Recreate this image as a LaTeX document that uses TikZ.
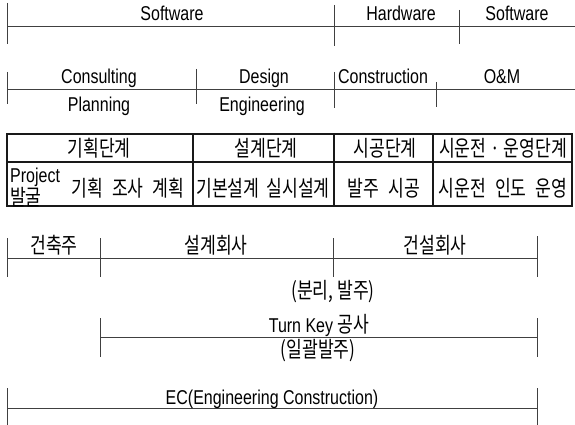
\documentclass[tikz,border=0pt]{standalone}
\usepackage{fontspec}
\setmainfont{Liberation Sans}[FakeStretch=0.8]
\newfontfamily\kr{Noto Sans CJK KR}[FakeStretch=0.78]
\begin{document}
\begin{tikzpicture}[x=1pt,y=-1pt,
  ln/.style={draw=black!75, line width=0.8pt},
  tb/.style={draw=black!90, line width=1.1pt},
  lat/.style={font=\fontsize{20}{22}\selectfont, inner sep=0pt, anchor=base},
  han/.style={font=\kr\fontsize{22}{24}\selectfont, inner sep=0pt, anchor=center}]
\useasboundingbox (0,0) rectangle (575,425);

% ---------- Row 1 ----------
\coordinate (r1L) at (7,26);  \coordinate (r1R) at (575,26);
\coordinate (r1aT) at (7,3);   \coordinate (r1aB) at (7,44);
\coordinate (r1bT) at (334,5); \coordinate (r1bB) at (334,46);
\coordinate (r1cT) at (459,10);\coordinate (r1cB) at (459,44);
\draw[ln] (r1L) -- (r1R);
\draw[ln] (r1aT) -- (r1aB);
\draw[ln] (r1bT) -- (r1bB);
\draw[ln] (r1cT) -- (r1cB);
\node[lat] (sw1) at (172,21) {Software};
\node[lat] (hw)  at (401,21) {Hardware};
\node[lat] (sw2) at (517,21) {Software};

% ---------- Row 2 ----------
\coordinate (r2L) at (7,89);  \coordinate (r2R) at (575,89);
\coordinate (r2aT) at (7,72);   \coordinate (r2aB) at (7,104);
\coordinate (r2bT) at (196,69); \coordinate (r2bB) at (196,104);
\coordinate (r2cT) at (334,72); \coordinate (r2cB) at (334,108);
\coordinate (r2dT) at (436,82); \coordinate (r2dB) at (436,107);
\draw[ln] (r2L) -- (r2R);
\draw[ln] (r2aT) -- (r2aB);
\draw[ln] (r2bT) -- (r2bB);
\draw[ln] (r2cT) -- (r2cB);
\draw[ln] (r2dT) -- (r2dB);
\node[lat] (cons) at (99,84)  {Consulting};
\node[lat] (des)  at (264,84) {Design};
\node[lat] (cnst) at (383,84) {Construction};
\node[lat] (om)   at (502,84) {O\&M};
\node[lat] (plan) at (99,112) {Planning};
\node[lat] (eng)  at (262,112) {Engineering};

% ---------- Table ----------
\coordinate (tTL) at (7,134);  \coordinate (tBR) at (572,206);
\coordinate (tML) at (7,162);  \coordinate (tMR) at (572,162);
\coordinate (c1T) at (193,134); \coordinate (c1B) at (193,206);
\coordinate (c2T) at (334,134); \coordinate (c2B) at (334,206);
\coordinate (c3T) at (433,134); \coordinate (c3B) at (433,206);
\draw[tb] (tTL) rectangle (tBR);
\draw[tb] (tML) -- (tMR);
\draw[tb] (c1T) -- (c1B);
\draw[tb] (c2T) -- (c2B);
\draw[tb] (c3T) -- (c3B);
\node[han] (h1) at (99,148)  {기획단계};
\node[han] (h2) at (266,148) {설계단계};
\node[han] (h3) at (385,148) {시공단계};
\node[han] (h4) at (503,148) {시운전 · 운영단계};
\node[lat, anchor=base west] (proj) at (10,182) {Project};
\node[han, anchor=west] (bal) at (10,197) {발굴};
\node[han] (d1) at (128,188) {기획\hspace{9pt}조사\hspace{9pt}계획};
\node[han] (d2) at (263,188) {기본설계\hspace{7pt}실시설계};
\node[han] (d3) at (384,188) {발주\hspace{9pt}시공};
\node[han] (d4) at (503,188) {시운전\hspace{9pt}인도\hspace{9pt}운영};

% ---------- Row 3 ----------
\coordinate (r3L) at (7,258);  \coordinate (r3R) at (537,258);
\coordinate (r3aT) at (7,238);   \coordinate (r3aB) at (7,277);
\coordinate (r3bT) at (100,238); \coordinate (r3bB) at (100,277);
\coordinate (r3cT) at (333,238); \coordinate (r3cB) at (333,277);
\coordinate (r3dT) at (537,236); \coordinate (r3dB) at (537,277);
\draw[ln] (r3L) -- (r3R);
\draw[ln] (r3aT) -- (r3aB);
\draw[ln] (r3bT) -- (r3bB);
\draw[ln] (r3cT) -- (r3cB);
\draw[ln] (r3dT) -- (r3dB);
\node[han] (own) at (54,245)  {건축주};
\node[han] (dco) at (216,245) {설계회사};
\node[han] (cco) at (435,245) {건설회사};
\node[han] (sep) at (333,292) {(분리, 발주)};

% ---------- Turn Key ----------
\coordinate (tkL) at (100,337); \coordinate (tkR) at (537,337);
\coordinate (tkaT) at (100,318); \coordinate (tkaB) at (100,357);
\coordinate (tkbT) at (537,318); \coordinate (tkbB) at (537,357);
\draw[ln] (tkL) -- (tkR);
\draw[ln] (tkaT) -- (tkaB);
\draw[ln] (tkbT) -- (tkbB);
\node[lat] (tk) at (319,332) {Turn Key {\kr\fontsize{22}{24}\selectfont 공사}};
\node[han] (lump) at (318,351) {(일괄발주)};

% ---------- EC ----------
\coordinate (ecL) at (7,408); \coordinate (ecR) at (537,408);
\coordinate (ecaT) at (7,388);   \coordinate (ecaB) at (7,425);
\coordinate (ecbT) at (537,388); \coordinate (ecbB) at (537,425);
\draw[ln] (ecL) -- (ecR);
\draw[ln] (ecaT) -- (ecaB);
\draw[ln] (ecbT) -- (ecbB);
\node[lat] (ec) at (272,404) {EC(Engineering Construction)};
\end{tikzpicture}
\end{document}
